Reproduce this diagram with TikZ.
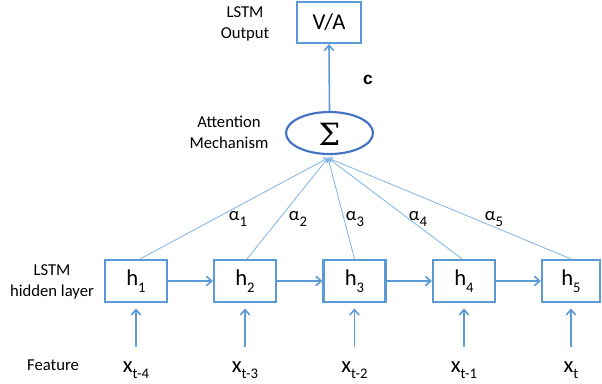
\documentclass[tikz,border=0pt]{standalone}
\usepackage{fontspec}
\setmainfont{Carlito}
\newfontfamily\boldsans{Liberation Sans}
\newfontfamily\sigmafont{DejaVu Serif}
\usetikzlibrary{arrows.meta,shapes.geometric}
\definecolor{boxblue}{HTML}{5B9BD5}
\definecolor{ringblue}{HTML}{4472C4}
\definecolor{thinblue}{HTML}{7EB2E4}
\newcommand{\lowidx}[1]{\raisebox{-0.28em}{\fontsize{11}{11}\selectfont #1}}
\begin{document}
\begin{tikzpicture}[x=0.75pt,y=-0.75pt,
  cell/.style={draw=boxblue,line width=1.6pt,minimum width=46.5pt,minimum height=31.5pt,
               inner sep=0pt,font=\fontsize{17}{17}\selectfont},
  caption/.style={align=center,font=\fontsize{12.5}{15.5}\selectfont},
  feat/.style={font=\fontsize{17}{17}\selectfont,inner sep=1pt,anchor=base},
  alab/.style={font=\fontsize{14}{14}\selectfont},
  flow/.style={draw=boxblue,line width=1.2pt,-{Straight Barb[length=4pt,width=7pt,line width=1.2pt]}},
  wline/.style={draw=thinblue,line width=0.6pt,-{Straight Barb[length=2.5pt,width=4pt]}}]
\useasboundingbox (0,0) rectangle (602,383);

% output box and attention node
\node[cell,minimum width=48pt,minimum height=30.75pt] (va) at (329,22.5) {V/A};
\node[ellipse,draw=ringblue,line width=1.6pt,minimum width=65.25pt,minimum height=31.5pt,inner sep=0pt]
  (sum) at (329.5,133) {};
\node[inner sep=0pt] (sigma) at (329.5,134) {\sigmafont\fontsize{23}{23}\selectfont Σ};
\coordinate (hub) at (328,158);

% hidden layer cells
\node[cell] (h1) at (136,281) {h\lowidx{1}};
\node[cell] (h2) at (245,281) {h\lowidx{2}};
\node[cell] (h3) at (354.5,281) {h\lowidx{3}};
\node[cell] (h4) at (464,281) {h\lowidx{4}};
\node[cell,minimum width=43.5pt] (h5) at (571,281) {h\lowidx{5}};

% input features
\node[feat] (x1) at (136,372) {x\lowidx{t-4}};
\node[feat] (x2) at (245,372) {x\lowidx{t-3}};
\node[feat] (x3) at (354.5,372) {x\lowidx{t-2}};
\node[feat] (x4) at (464,372) {x\lowidx{t-1}};
\node[feat] (x5) at (571,372) {x\lowidx{t}};

% row captions
\node[caption] (capout) at (245,24) {LSTM\\Output};
\node[caption] (capatt) at (229,132.5) {Attention\\Mechanism};
\node[caption] (caphid) at (52,282) {LSTM\\hidden layer};
\node[caption] (capfeat) at (53,365) {Feature};

% context vector label
\node[font=\boldsans\bfseries\fontsize{13}{13}\selectfont] (ctx) at (368,80) {c};

% connectors
\draw[flow] (sum.north) -- (va.south);
\foreach \a/\b in {h1/h2,h2/h3,h3/h4,h4/h5}
  \draw[flow] (\a.east) -- (\b.west);
\foreach \i in {1,...,5}
  \draw[flow] ([yshift=19pt]x\i.base) -- ([yshift=-4pt]h\i.south);

% attention weights
\draw[wline] ([xshift=3pt]h1.north) -- (hub);
\draw[wline] ([xshift=1.5pt]h2.north) -- (hub);
\draw[wline] (h3.north) -- (hub);
\draw[wline] ([xshift=-1.5pt]h4.north) -- (hub);
\draw[wline] (h5.north) -- (hub);

\node[alab] (a1) at (238,219) {α\lowidx{1}};
\node[alab] (a2) at (298,219) {α\lowidx{2}};
\node[alab] (a3) at (355,219) {α\lowidx{3}};
\node[alab] (a4) at (418,219) {α\lowidx{4}};
\node[alab] (a5) at (494,219) {α\lowidx{5}};
\end{tikzpicture}
\end{document}
